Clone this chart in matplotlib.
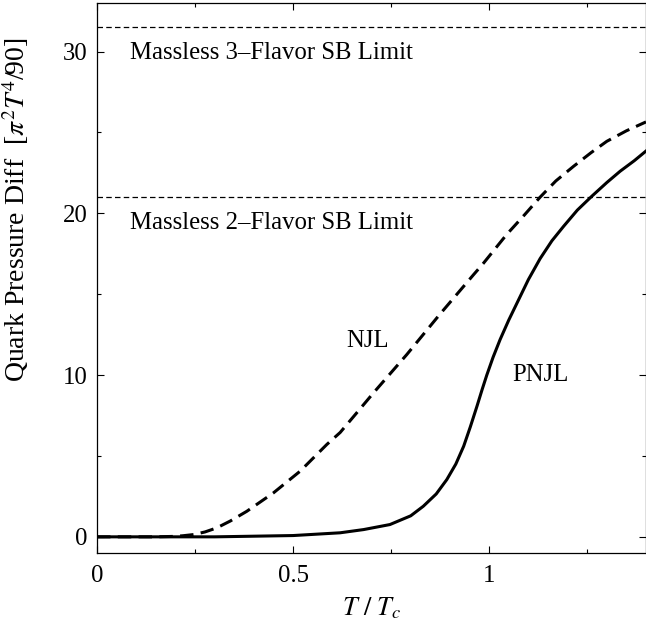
import matplotlib
matplotlib.use("Agg")
import matplotlib.pyplot as plt
from matplotlib.ticker import MultipleLocator

plt.rcParams['font.family'] = ['Liberation Serif', 'DejaVu Serif']
plt.rcParams['mathtext.fontset'] = 'stix'

# quark pressure difference in units of pi^2 T^4 / 90
njl_t = [0.0, 0.1, 0.15, 0.2, 0.22, 0.246, 0.275, 0.305, 0.34, 0.382, 0.45, 0.518,
         0.586, 0.62, 0.66, 0.705, 0.79, 0.874, 0.96, 0.985, 1.045, 1.09, 1.13,
         1.17, 1.215, 1.26, 1.30, 1.35, 1.40]
njl_p = [0.0, 0.0, 0.0, 0.03, 0.07, 0.14, 0.3, 0.55, 0.98, 1.58, 2.72, 4.06,
         5.71, 6.45, 7.6, 8.9, 11.27, 13.75, 16.2, 16.9, 18.7, 19.9, 21.0,
         22.0, 22.9, 23.75, 24.45, 25.1, 25.65]

pnjl_t = [0.0, 0.3, 0.5, 0.62, 0.68, 0.747, 0.8, 0.832, 0.865, 0.892, 0.915, 0.935,
          0.952, 0.969, 0.982, 0.994, 1.01, 1.028, 1.05, 1.07, 1.10, 1.13, 1.16,
          1.19, 1.225, 1.262, 1.30, 1.334, 1.37, 1.40]
pnjl_p = [0.0, 0.0, 0.08, 0.25, 0.45, 0.76, 1.3, 1.89, 2.65, 3.54, 4.5, 5.6,
          6.8, 8.08, 9.1, 10.0, 11.1, 12.2, 13.4, 14.4, 15.9, 17.2, 18.3,
          19.2, 20.2, 21.06, 21.9, 22.6, 23.25, 23.85]

# Stefan-Boltzmann limits for massless quarks
sb_limits = [21.0, 31.5]
sb_labels = ["Massless 2\u2013Flavor SB Limit", "Massless 3\u2013Flavor SB Limit"]

fig = plt.figure(figsize=(6.46, 6.28), dpi=100)
ax = fig.add_axes([0.1502, 0.1194, 0.8498, 0.8758])

for lim, lab in zip(sb_limits, sb_labels):
    ax.axhline(lim, color='black', lw=0.9, dashes=(4.4, 2.6))
    ax.text(0.085, lim - 1.6, lab, fontsize=17.8, va='center', ha='left')

ax.plot(njl_t, njl_p, color='black', lw=2.2, dashes=(4.4, 2.4))
ax.plot(pnjl_t, pnjl_p, color='black', lw=2.2)

ax.text(0.637, 12.1, "NJL", fontsize=17.8, va='center', ha='left')
ax.text(1.058, 10.0, "PNJL", fontsize=17.8, va='center', ha='left')

ax.set_xlim(0, 1.4)
ax.set_ylim(-1, 33)
ax.xaxis.set_major_locator(MultipleLocator(0.5))
ax.xaxis.set_minor_locator(MultipleLocator(0.25))
ax.yaxis.set_major_locator(MultipleLocator(10))
ax.yaxis.set_minor_locator(MultipleLocator(5))
ax.set_xticks([0, 0.5, 1])
ax.set_xticklabels(["0", "0.5", "1"])

ax.tick_params(which='both', direction='in', top=True, right=True, width=0.8)
ax.tick_params(which='major', length=5, labelsize=17.8)
ax.tick_params(which='minor', length=3)
ax.tick_params(axis='x', which='major', pad=8.5)
ax.tick_params(axis='y', which='major', pad=7)
for sp in ax.spines.values():
    sp.set_linewidth(0.9)

ax.set_xlabel(r"$T\ /\ T_c$", fontsize=19, labelpad=6)
ax.set_ylabel(r"Quark Pressure Diff  [$\pi^2T^4$/90]", fontsize=20)
ax.yaxis.set_label_coords(-0.12, 0.625)

fig.savefig("out.png", dpi=100)
